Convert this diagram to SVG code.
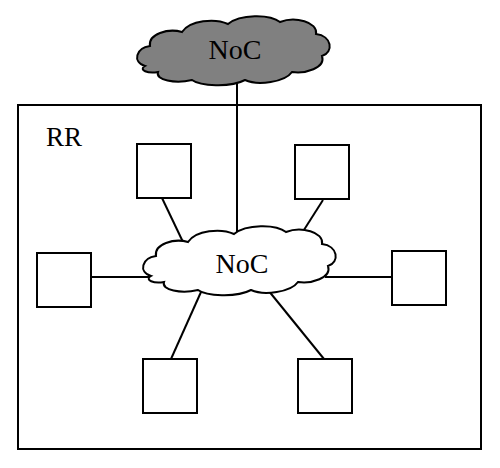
<svg xmlns="http://www.w3.org/2000/svg" width="500" height="468" viewBox="0 0 500 468">
<defs>
<style>
.ln{stroke:#000;stroke-width:2;fill:none}
.box{fill:#fff;stroke:#000;stroke-width:2}
.cloud{stroke:#000;stroke-width:2}
.lbl{font-family:"Liberation Serif",serif;font-size:28px;fill:#000;text-anchor:middle}
</style>
<path id="cloudShape" d="M 145,66 C 132,62 136,48 150,46 C 148,34 168,28 182,32 C 190,20 215,18 228,24 C 240,14 270,14 280,22 C 295,16 318,22 316,34 C 332,36 334,52 322,56 C 326,68 305,74 292,72 C 285,82 258,86 245,80 C 230,88 200,86 192,80 C 175,84 155,80 158,72 C 148,74 138,70 145,66 Z"/>
</defs>
<rect width="500" height="468" fill="#fff"/>
<g id="rr">
<rect x="18" y="105" width="463" height="344" fill="none" stroke="#000" stroke-width="2"/>
<text x="64" y="146" class="lbl" style="font-size:27px">RR</text>
</g>
<g id="connectors">
<line class="ln" x1="237" y1="80" x2="237" y2="240"/>
<line class="ln" x1="162" y1="198" x2="183" y2="242"/>
<line class="ln" x1="323" y1="200" x2="302" y2="233"/>
<line class="ln" x1="91" y1="277" x2="150" y2="277"/>
<line class="ln" x1="325" y1="277" x2="392" y2="277"/>
<line class="ln" x1="201" y1="292" x2="171" y2="359"/>
<line class="ln" x1="268" y1="290" x2="324" y2="359"/>
</g>
<g id="noc-top">
<use href="#cloudShape" class="cloud" fill="#808080"/>
<text x="235" y="59" class="lbl">NoC</text>
</g>
<g id="noc-inner">
<use href="#cloudShape" class="cloud" fill="#fff" transform="translate(6,210)"/>
<text x="242" y="273" class="lbl">NoC</text>
</g>
<g id="box-tl"><rect class="box" x="137" y="144" width="54" height="54"/></g>
<g id="box-tr"><rect class="box" x="295" y="145" width="54" height="54"/></g>
<g id="box-l"><rect class="box" x="37" y="253" width="54" height="54"/></g>
<g id="box-r"><rect class="box" x="392" y="251" width="54" height="54"/></g>
<g id="box-bl"><rect class="box" x="143" y="359" width="54" height="54"/></g>
<g id="box-br"><rect class="box" x="298" y="359" width="54" height="54"/></g>
</svg>
